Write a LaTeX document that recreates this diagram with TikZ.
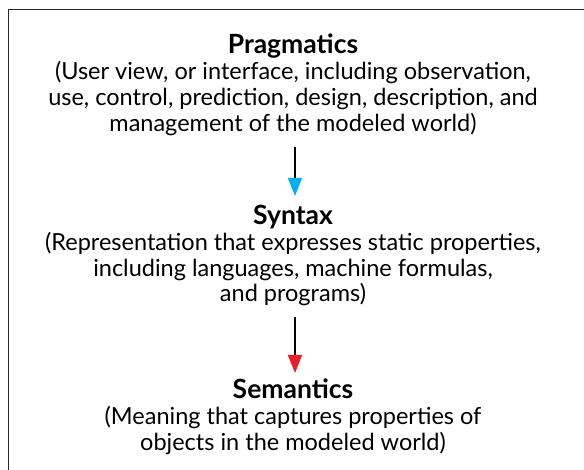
\documentclass[tikz,border=0pt]{standalone}
\usepackage{fontspec}
\setmainfont{Lato}
\usetikzlibrary{arrows.meta}
\definecolor{tipblue}{RGB}{0,176,240}
\definecolor{tipred}{RGB}{237,28,36}
\newcommand{\blocktitle}[1]{{\fontsize{26.5}{25.8}\selectfont\bfseries #1}}
\tikzset{
  block/.style={align=center, inner sep=0pt, font=\fontsize{23.5}{25.8}\selectfont},
  flow/.style={line width=1.4pt, black, shorten <=11pt, shorten >=9pt},
}
\begin{document}
\begin{tikzpicture}[x=1pt,y=-1pt]
\useasboundingbox (0,0) rectangle (584,470);
\draw[line width=1.5pt, black!85] (8.5,475) -- (8.5,9.5) -- (590,9.5);
\node[block, anchor=north] (prag) at (293,34)
  {\blocktitle{Pragmatics}\\(User view, or interface, including observation,\\use, control, prediction, design, description, and\\management of the modeled world)};
\node[block, anchor=north] (syn) at (293,205)
  {\blocktitle{Syntax}\\(Representation that expresses static properties,\\including languages, machine formulas,\\and programs)};
\node[block, anchor=north] (sem) at (293,379)
  {\blocktitle{Semantics}\\(Meaning that captures properties of\\objects in the modeled world)};
\draw[flow, -{Triangle[width=14pt,length=18pt,color=tipblue]}] (prag.south -| 295,0) -- (syn.north -| 295,0);
\draw[flow, shorten >=6pt, -{Triangle[width=14pt,length=18pt,color=tipred]}] (syn.south -| 295,0) -- (sem.north -| 295,0);
\end{tikzpicture}
\end{document}
